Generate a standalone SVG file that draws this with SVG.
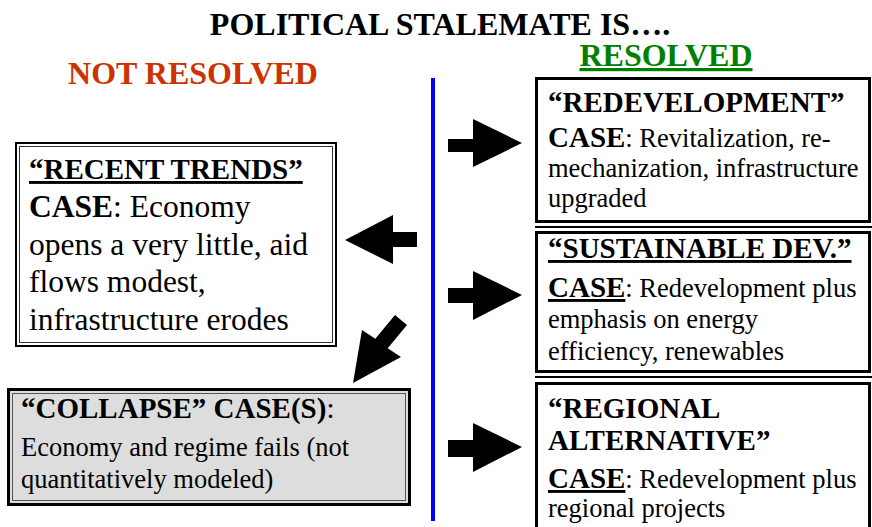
<svg xmlns="http://www.w3.org/2000/svg" width="872" height="527" viewBox="0 0 872 527">
<style>
text{font-family:"Liberation Serif","Times New Roman",serif;fill:#000}
.b{font-weight:bold}
.u{text-decoration:underline}
.t{font-size:32px;font-weight:bold}
.h{font-size:29px;font-weight:bold}
.body31{font-size:31.5px}
.body26{font-size:26.5px}
.frame{fill:#fff;stroke:#000}
.arrow{fill:#000;stroke:none}
</style>
<rect width="872" height="527" fill="#fff"/>
<g id="title">
<text class="t" x="440" y="35" text-anchor="middle">POLITICAL STALEMATE IS….</text>
</g>
<g id="not-resolved-label">
<text class="t" x="193" y="84" text-anchor="middle" style="fill:#CC3300">NOT RESOLVED</text>
</g>
<g id="resolved-label">
<text class="t u" x="666" y="66" text-anchor="middle" style="fill:#008000">RESOLVED</text>
</g>
<g id="divider">
<line x1="433" y1="78" x2="433" y2="521" stroke="#0000FF" stroke-width="4"/>
</g>
<g id="recent-trends">
<rect x="16" y="143" width="320" height="203" fill="#fff" stroke="#000" stroke-width="2"/>
<rect x="19.5" y="146.5" width="313" height="196" fill="none" stroke="#333" stroke-width="1"/>
<text class="h u" x="29" y="179">“RECENT TRENDS”</text>
<text class="body31" x="29" y="217"><tspan class="b">CASE</tspan>: Economy</text>
<text class="body31" x="29" y="255">opens a very little, aid</text>
<text class="body31" x="29" y="292">flows modest,</text>
<text class="body31" x="29" y="330">infrastructure erodes</text>
</g>
<g id="collapse">
<rect x="8.5" y="389.5" width="401" height="115" fill="#DDDDDD" stroke="#000" stroke-width="3"/>
<rect x="12.5" y="393.5" width="393" height="107" fill="none" stroke="#555" stroke-width="1"/>
<text x="21" y="418"><tspan class="h">“COLLAPSE” CASE(S)</tspan><tspan style="font-size:29px">:</tspan></text>
<text class="body26" x="21" y="456">Economy and regime fails (not</text>
<text class="body26" x="21" y="488">quantitatively modeled)</text>
</g>
<g id="redevelopment">
<rect x="536.5" y="78.5" width="333" height="143" class="frame" stroke-width="3"/>
<line x1="535" y1="227" x2="872" y2="227" stroke="#000" stroke-width="2"/>
<text class="h" x="548" y="112">“REDEVELOPMENT”</text>
<text class="body26" x="548" y="147"><tspan class="b" style="font-size:29px">CASE</tspan>: Revitalization, re-</text>
<text class="body26" x="548" y="177">mechanization, infrastructure</text>
<text class="body26" x="548" y="207">upgraded</text>
</g>
<g id="sustainable-dev">
<rect x="536.5" y="232.5" width="333" height="139" class="frame" stroke-width="3"/>
<line x1="535" y1="377" x2="872" y2="377" stroke="#000" stroke-width="2"/>
<text class="h u" x="548" y="258">“SUSTAINABLE DEV.”</text>
<text class="body26" x="548" y="297"><tspan class="b u" style="font-size:29px">CASE</tspan>: Redevelopment plus</text>
<text class="body26" x="548" y="328">emphasis on energy</text>
<text class="body26" x="548" y="360">efficiency, renewables</text>
</g>
<g id="regional-alternative">
<rect x="536.5" y="383.5" width="333" height="160" class="frame" stroke-width="3"/>
<text class="h" x="548" y="418">“REGIONAL</text>
<text class="h" x="548" y="450">ALTERNATIVE”</text>
<text class="body26" x="548" y="488"><tspan class="b u" style="font-size:29px">CASE</tspan>: Redevelopment plus</text>
<text class="body26" x="548" y="517">regional projects</text>
</g>
<g id="connectors">
<polygon class="arrow" points="448,139 473,139 473,119 522,143 473,167 473,152 448,152"/>
<polygon class="arrow" points="448,288 473,288 473,271 522,295 473,320 473,303 448,303"/>
<polygon class="arrow" points="448,440 473,440 473,423 522,447 473,472 473,457 448,457"/>
<polygon class="arrow" points="417,232 393,232 393,215 345,240 393,264 393,247 417,247"/>
<polygon class="arrow" points="353,383 362,330 375.3,338.8 395,315 407,325 387.7,348.2 401,357"/>
</g>
</svg>
